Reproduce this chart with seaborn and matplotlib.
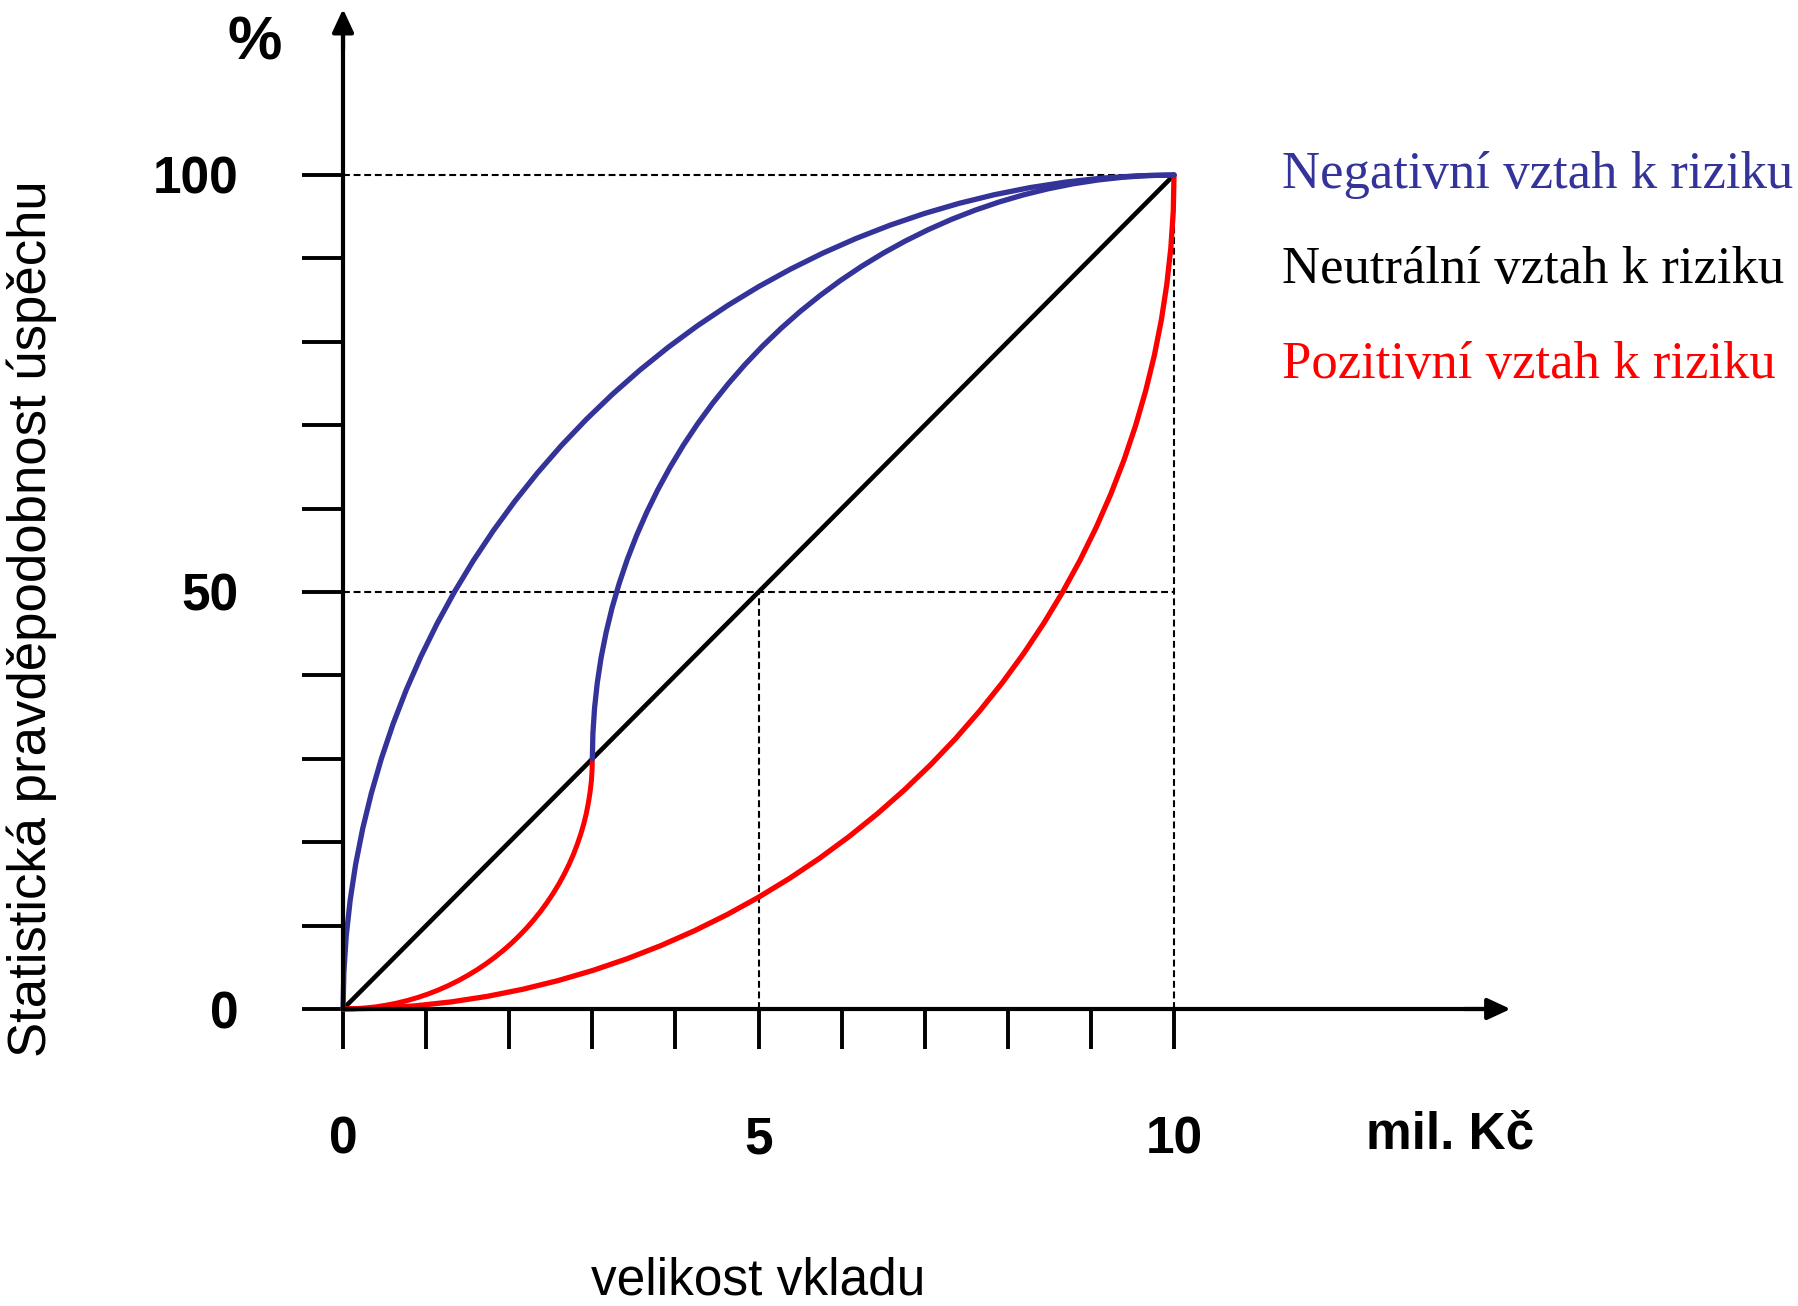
import matplotlib
matplotlib.use("Agg")
import matplotlib.pyplot as plt
import seaborn as sns
import pandas as pd

# ---------------- data ----------------
x_ticks = list(range(0, 11))
x_tick_labels = ["0", "", "", "", "", "5", "", "", "", "", "10"]
y_ticks = list(range(0, 101, 10))
y_tick_labels = ["0", "", "", "", "", "50", "", "", "", "", "100"]

# negative attitude to risk (blue), outer curve
neg_outer_x = [0, 0.010, 0.038, 0.086, 0.152, 0.237, 0.341, 0.463, 0.603, 0.761, 0.937,
               1.130, 1.340, 1.566, 1.809, 2.067, 2.340, 2.627, 2.929, 3.244, 3.572, 3.912,
               4.264, 4.627, 5.0, 5.383, 5.774, 6.173, 6.580, 6.993, 7.412, 7.836, 8.264,
               8.695, 9.128, 9.564, 10]
neg_outer_y = [0, 4.362, 8.716, 13.053, 17.365, 21.644, 25.882, 30.071, 34.202, 38.268,
               42.262, 46.175, 50.0, 53.730, 57.358, 60.876, 64.279, 67.559, 70.711, 73.728,
               76.604, 79.335, 81.915, 84.339, 86.603, 88.701, 90.631, 92.388, 93.969,
               95.372, 96.593, 97.630, 98.481, 99.144, 99.619, 99.905, 100]
# negative attitude, inner curve (starts at 3 mil.)
neg_inner_x = [3.0, 3.007, 3.027, 3.060, 3.106, 3.166, 3.238, 3.324, 3.422, 3.533, 3.656,
               3.791, 3.938, 4.096, 4.266, 4.447, 4.638, 4.839, 5.050, 5.271, 5.500, 5.739,
               5.985, 6.239, 6.5, 6.768, 7.042, 7.321, 7.606, 7.895, 8.188, 8.485, 8.784,
               9.086, 9.390, 9.695, 10]
neg_inner_y = [30, 33.053, 36.101, 39.137, 42.156, 45.151, 48.117, 51.050, 53.941, 56.788,
               59.583, 62.323, 65.0, 67.611, 70.151, 72.613, 74.995, 77.291, 79.498, 81.610,
               83.623, 85.535, 87.341, 89.037, 90.622, 92.091, 93.442, 94.672, 95.778,
               96.760, 97.615, 98.341, 98.937, 99.401, 99.733, 99.934, 100]
# neutral attitude (black)
neu_x = [0, 10]
neu_y = [0, 100]
# positive attitude (red), inner curve up to 3 mil.
pos_inner_x = [0, 0.131, 0.261, 0.392, 0.521, 0.649, 0.776, 0.902, 1.026, 1.148, 1.268,
               1.385, 1.5, 1.612, 1.721, 1.826, 1.928, 2.027, 2.121, 2.212, 2.298, 2.380,
               2.457, 2.530, 2.598, 2.661, 2.719, 2.772, 2.819, 2.861, 2.898, 2.929, 2.954,
               2.974, 2.989, 2.997, 3.0]
pos_inner_y = [0, 0.028, 0.114, 0.257, 0.456, 0.711, 1.022, 1.388, 1.809, 2.284, 2.811,
               3.390, 4.019, 4.698, 5.425, 6.199, 7.019, 7.882, 8.787, 9.732, 10.716,
               11.737, 12.793, 13.881, 15.0, 16.147, 17.321, 18.520, 19.739, 20.979,
               22.235, 23.507, 24.791, 26.084, 27.385, 28.691, 30]
# positive attitude, outer curve
pos_outer_x = [0, 0.436, 0.872, 1.305, 1.737, 2.164, 2.588, 3.007, 3.420, 3.827, 4.226,
               4.618, 5.0, 5.373, 5.736, 6.088, 6.428, 6.756, 7.071, 7.373, 7.660, 7.934,
               8.192, 8.434, 8.660, 8.870, 9.063, 9.239, 9.397, 9.537, 9.659, 9.763, 9.848,
               9.914, 9.962, 9.991, 10]
pos_outer_y = [0, 0.095, 0.381, 0.856, 1.519, 2.370, 3.407, 4.628, 6.031, 7.612, 9.369,
               11.299, 13.397, 15.661, 18.085, 20.665, 23.396, 26.272, 29.289, 32.441,
               35.721, 39.124, 42.642, 46.270, 50.0, 53.825, 57.738, 61.732, 65.798, 69.929,
               74.118, 78.356, 82.635, 86.947, 91.284, 95.638, 100]

guide_y_levels = [100, 50]
guide_x_levels = [5, 10]

legend_labels = ["Negativní vztah k riziku", "Neutrální vztah k riziku",
                 "Pozitivní vztah k riziku"]
legend_colors = ["#333399", "#000000", "#FF0000"]

BLUE = "#333399"
RED = "#FF0000"

# ---------------- figure ----------------
sns.set_theme(style="white")
plt.rcParams["font.family"] = ["Liberation Sans", "DejaVu Sans"]
plt.rcParams["text.color"] = "black"
plt.rcParams["xtick.color"] = "black"
plt.rcParams["ytick.color"] = "black"

fig = plt.figure(figsize=(17.98, 13.06), dpi=100)
ax = fig.add_axes([0, 0, 1, 1])
ax.set_xlim(-4.128, 17.509)
ax.set_ylim(-35.61, 120.98)
ax.set_facecolor("white")

# guide dashed lines
for yl in guide_y_levels:
    ax.plot([0, max(guide_x_levels)], [yl, yl], color="black", lw=1.5,
            dashes=(3.3, 1.8), zorder=1)
for xl in guide_x_levels:
    top = 50 if xl == 5 else 100
    ax.plot([xl, xl], [0, top], color="black", lw=1.5, dashes=(3.3, 1.8), zorder=1)

def curve(xs, ys, color, lw):
    df = pd.DataFrame({"x": xs, "y": ys})
    sns.lineplot(data=df, x="x", y="y", ax=ax, color=color, lw=lw, sort=False,
                 estimator=None, zorder=3, solid_joinstyle="round",
                 solid_capstyle="round")

curve(neu_x, neu_y, "black", 3.3)
curve(pos_outer_x, pos_outer_y, RED, 3.8)
curve(pos_inner_x, pos_inner_y, RED, 3.6)
curve(neg_outer_x, neg_outer_y, BLUE, 3.8)
curve(neg_inner_x, neg_inner_y, BLUE, 3.8)

# axes through origin
for s in ["top", "right"]:
    ax.spines[s].set_visible(False)
ax.spines["left"].set_position(("data", 0))
ax.spines["bottom"].set_position(("data", 0))
ax.spines["left"].set_bounds(0, 118)
ax.spines["bottom"].set_bounds(0, 13.9)
for s in ["left", "bottom"]:
    ax.spines[s].set_linewidth(3.0)
    ax.spines[s].set_color("black")
    ax.spines[s].set_zorder(4)

arrow_style = "-|>,head_length=14,head_width=6.5"
ax.annotate("", xy=(0, 119.9), xytext=(0, 115),
            arrowprops=dict(arrowstyle=arrow_style, mutation_scale=1, color="black",
                            lw=3.0, shrinkA=0, shrinkB=0), zorder=5)
ax.annotate("", xy=(14.05, 0), xytext=(13.5, 0),
            arrowprops=dict(arrowstyle=arrow_style, mutation_scale=1, color="black",
                            lw=3.0, shrinkA=0, shrinkB=0), zorder=5)

ax.set_xticks(x_ticks)
ax.set_xticklabels(x_tick_labels)
ax.set_yticks(y_ticks)
ax.set_yticklabels(y_tick_labels)
ax.tick_params(axis="x", direction="out", length=29, width=2.8, pad=48,
               labelsize=37, colors="black", bottom=True)
ax.tick_params(axis="y", direction="out", length=29.5, width=2.8, pad=46,
               labelsize=37, colors="black", left=True)
for lab in ax.get_xticklabels() + ax.get_yticklabels():
    lab.set_fontweight("bold")
ax.set_xlabel("")
ax.set_ylabel("")
ax.grid(False)

# extra annotations
ax.text(-1.06, 115.7, "%", fontsize=44, fontweight="bold", ha="center", va="center",
        color="black")
ax.text(13.32, -15.1, "mil. Kč", fontsize=37, fontweight="bold", ha="center",
        va="center", color="black")
ax.text(5.0, -32.6, "velikost vkladu", fontsize=37, ha="center", va="center",
        color="black")
fig.text(32 / 1798, 1 - 619 / 1306, "Statistická pravděpodobnost úspěchu", fontsize=38,
         rotation=90, ha="center", va="center", color="black")

legend_y = [98.4, 87.0, 75.7]
for lbl, col, yy in zip(legend_labels, legend_colors, legend_y):
    ax.text(11.30, yy, lbl, color=col, fontsize=38, ha="left", va="baseline",
            family=["Liberation Serif", "DejaVu Serif"])

fig.savefig("out.png", dpi=100, facecolor="white")
